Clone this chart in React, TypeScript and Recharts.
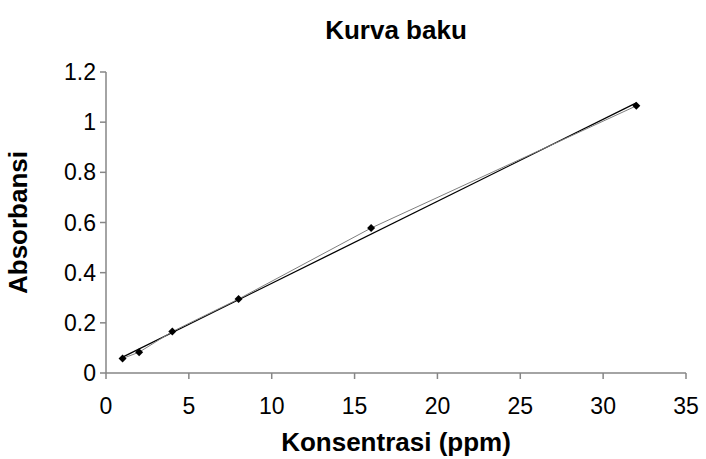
import React from 'react';
import { ScatterChart, Scatter, XAxis, YAxis, Label } from 'recharts';

const konsentrasi = [1, 2, 4, 8, 16, 32];
const absorbansi = [0.058, 0.083, 0.165, 0.295, 0.578, 1.065];
const trendX = [1, 32];
const trendY = [0.063, 1.077];
const xTicks = [0, 5, 10, 15, 20, 25, 30, 35];
const yTicks = [0, 0.2, 0.4, 0.6, 0.8, 1, 1.2];

const points = konsentrasi.map((x, i) => ({ x, y: absorbansi[i] }));
const trend = trendX.map((x, i) => ({ x, y: trendY[i] }));

const FONT = '"Liberation Sans", Arial, sans-serif';
const AXIS = '#868686';
const TICK_SIZE = 23;
const TITLE_SIZE = 26;

const Diamond = (props: any) => {
  const { cx, cy } = props;
  if (cx == null || cy == null) return null;
  const r = 4;
  return (
    <polygon
      points={`${cx},${cy - r} ${cx + r},${cy} ${cx},${cy + r} ${cx - r},${cy}`}
      fill="#000"
    />
  );
};

const NoDot = () => null;

export default function App() {
  return (
    <div style={{ position: 'absolute', left: 0, top: 0, width: 706, height: 459, background: '#fff', fontFamily: FONT }}>
      <div
        style={{
          position: 'absolute',
          top: 14,
          left: 106,
          width: 580,
          textAlign: 'center',
          fontWeight: 'bold',
          fontSize: TITLE_SIZE,
          lineHeight: '32px',
          color: '#000',
        }}
      >
        Kurva baku
      </div>
      <ScatterChart width={706} height={459} margin={{ top: 72, right: 20, left: 0, bottom: 0 }}>
        <XAxis
          type="number"
          dataKey="x"
          domain={[0, 35]}
          ticks={xTicks}
          height={86}
          axisLine={{ stroke: AXIS, strokeWidth: 1.5 }}
          tickLine={{ stroke: AXIS, strokeWidth: 1.5 }}
          tickSize={6}
          tick={{ fill: '#000', fontSize: TICK_SIZE, fontFamily: FONT }}
          tickMargin={19}
        >
          <Label
            value="Konsentrasi (ppm)"
            position="insideBottom"
            offset={8}
            style={{ fontWeight: 'bold', fontSize: TITLE_SIZE, fill: '#000', fontFamily: FONT }}
          />
        </XAxis>
        <YAxis
          type="number"
          dataKey="y"
          domain={[0, 1.2]}
          ticks={yTicks}
          width={106}
          axisLine={{ stroke: AXIS, strokeWidth: 1.5 }}
          tickLine={{ stroke: AXIS, strokeWidth: 1.5 }}
          tickSize={6}
          tick={{ fill: '#000', fontSize: TICK_SIZE, fontFamily: FONT }}
          tickMargin={4}
        >
          <Label
            value="Absorbansi"
            angle={-90}
            position="insideLeft"
            offset={18}
            style={{ fontWeight: 'bold', fontSize: TITLE_SIZE, fill: '#000', fontFamily: FONT, textAnchor: 'middle' }}
          />
        </YAxis>
        <Scatter
          data={trend}
          line={{ stroke: '#000', strokeWidth: 1.3 }}
          shape={NoDot}
          isAnimationActive={false}
        />
        <Scatter
          data={points}
          line={{ stroke: '#7f7f7f', strokeWidth: 1 }}
          shape={Diamond}
          isAnimationActive={false}
        />
      </ScatterChart>
    </div>
  );
}
